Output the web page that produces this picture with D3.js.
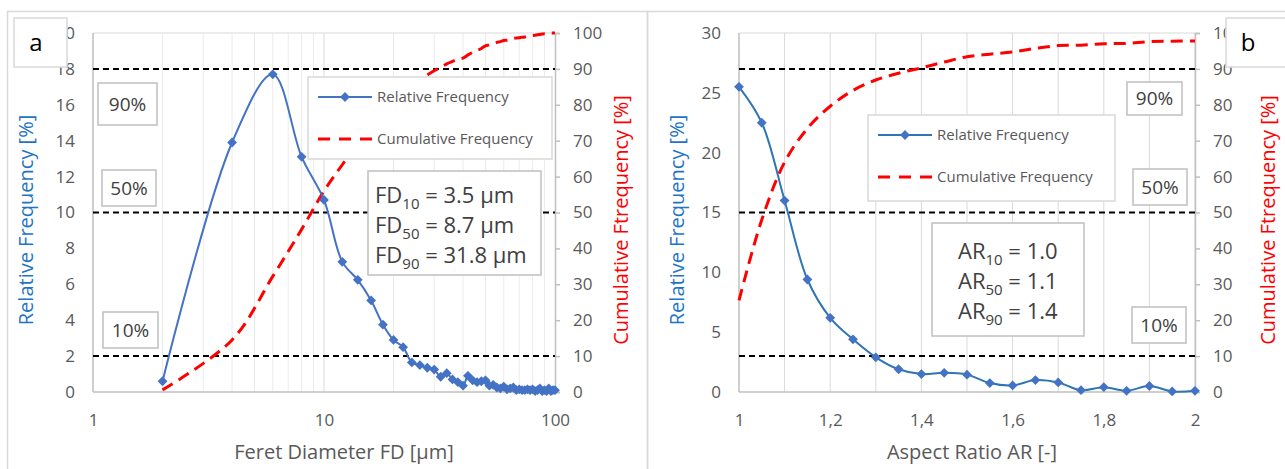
<!DOCTYPE html>
<html lang="en">
<head>
    <meta charset="UTF-8">
    <title>Feret diameter and aspect ratio distribution</title>
    <script src="https://cdn.jsdelivr.net/npm/d3@7"></script>
    <style>
        body { margin: 0; background: #fff; }
        text { font-family: "Open Sans", "Noto Sans", sans-serif; }
    </style>
</head>
<body>
    <div id="my_dataviz"></div>
    <script>
        // panel a: Feret diameter classes [µm] and frequencies [%]
        var fdSizes = [2, 4, 6, 8, 10, 12, 14, 16, 18, 20, 22, 24, 26, 28, 30, 32, 34, 36, 38, 40,
                       42, 44, 46, 48, 50, 52, 54, 56, 58, 60, 62, 64, 66, 68, 70, 72, 74, 76, 78, 80,
                       82, 84, 86, 88, 90, 92, 94, 96, 98, 100];
        var fdRelative = [0.6, 13.9, 17.7, 13.1, 10.7, 7.25, 6.25, 5.1, 3.75, 2.9, 2.5, 1.65, 1.5, 1.35, 1.25, 0.85, 1.05, 0.7, 0.55, 0.35,
                          0.9, 0.65, 0.55, 0.6, 0.65, 0.35, 0.4, 0.25, 0.2, 0.3, 0.15, 0.2, 0.25, 0.1, 0.15, 0.1, 0.1, 0.15, 0.1, 0.15,
                          0.05, 0.1, 0.2, 0.05, 0.1, 0.05, 0.2, 0.05, 0.1, 0.1];
        var fdCumulative = [0.6, 14.5, 32.2, 45.3, 56, 63.3, 69.5, 74.6, 78.4, 81.3, 83.8, 85.4, 86.9, 88.3, 89.5, 90.4, 91.4, 92.1, 92.7, 93.0,
                            93.9, 94.6, 95.1, 95.7, 96.4, 96.7, 97.1, 97.4, 97.6, 97.9, 98.0, 98.2, 98.5, 98.6, 98.7, 98.8, 98.9, 99.1, 99.2, 99.3,
                            99.4, 99.5, 99.6, 99.7, 99.8, 99.8, 99.9, 100, 100, 100];
        var fdTicks = [1, 10, 100];
        var fdGrid = [2, 3, 4, 5, 6, 7, 8, 9, 10, 20, 30, 40, 50, 60, 70, 80, 90];
        var fdStats = [["10", "3.5 µm"], ["50", "8.7 µm"], ["90", "31.8 µm"]];

        // panel b: aspect ratio classes [-] and frequencies [%]
        var arValues = [1, 1.05, 1.1, 1.15, 1.2, 1.25, 1.3, 1.35, 1.4, 1.45, 1.5, 1.55, 1.6, 1.65, 1.7, 1.75, 1.8, 1.85, 1.9, 1.95, 2];
        var arRelative = [25.5, 22.5, 16, 9.4, 6.2, 4.4, 2.9, 1.9, 1.5, 1.6, 1.45, 0.75, 0.55, 1.0, 0.8, 0.15, 0.4, 0.1, 0.5, 0.05, 0.1];
        var arCumulative = [25.5, 48, 64, 73.4, 79.6, 84, 86.9, 88.8, 90.3, 91.9, 93.4, 94.1, 94.7, 95.7, 96.5, 96.6, 97.0, 97.1, 97.6, 97.7, 97.8];
        var arTicks = [1, 1.2, 1.4, 1.6, 1.8, 2];
        var arGrid = [1.1, 1.2, 1.3, 1.4, 1.5, 1.6, 1.7, 1.8, 1.9, 2];
        var arStats = [["10", "1.0"], ["50", "1.1"], ["90", "1.4"]];

        var cumTicks = [0, 10, 20, 30, 40, 50, 60, 70, 80, 90, 100];
        var percentLevels = [90, 50, 10];

        var blue = "#4472C4", red = "#FF0000", gray = "#595959";

        var svg = d3.select("#my_dataviz")
          .append("svg")
            .attr("width", 1285)
            .attr("height", 469);

        // panel frames
        svg.append("rect").attr("x", 7.5).attr("y", 11.5).attr("width", 640).attr("height", 470)
            .attr("fill", "none").attr("stroke", "#d9d9d9").attr("stroke-width", 1.5);
        svg.append("rect").attr("x", 647.5).attr("y", 11.5).attr("width", 645).attr("height", 470)
            .attr("fill", "none").attr("stroke", "#d9d9d9").attr("stroke-width", 1.5);

        function drawPanel(p) {
            var g = svg.append("g");
            var x = p.x, y = p.y;
            var y2 = d3.scaleLinear().domain([0, 100]).range(y.range());
            var left = x.range()[0], right = x.range()[1];
            var top = y.range()[1], bottom = y.range()[0];

            // vertical gridlines
            g.append("g").selectAll("line")
                .data(p.grid)
                .enter()
                .append("line")
                  .attr("x1", function(d) { return x(d); })
                  .attr("x2", function(d) { return x(d); })
                  .attr("y1", top).attr("y2", bottom)
                  .attr("stroke", function(d) { return p.major(d) ? "#d9d9d9" : "#ebebeb"; })
                  .attr("stroke-width", 1);

            // plot area border
            g.append("line").attr("x1", left).attr("x2", right).attr("y1", top).attr("y2", top)
                .attr("stroke", "#d9d9d9");
            g.append("line").attr("x1", left).attr("x2", left).attr("y1", top).attr("y2", bottom)
                .attr("stroke", "#bfbfbf").attr("stroke-width", 1.5);
            g.append("line").attr("x1", left).attr("x2", right).attr("y1", bottom).attr("y2", bottom)
                .attr("stroke", "#bfbfbf").attr("stroke-width", 1.5);

            // Add X axis
            var xAxis = g.append("g")
                .attr("transform", "translate(0," + bottom + ")")
                .call(d3.axisBottom(x).tickValues(p.xTicks).tickFormat(p.xFormat).tickSize(0).tickPadding(22));
            xAxis.select(".domain").remove();

            // Add left Y axis
            var yAxis = g.append("g")
                .attr("transform", "translate(" + left + ",0)")
                .call(d3.axisLeft(y).tickValues(p.yTicks).tickSize(0).tickPadding(18));
            yAxis.select(".domain").remove();

            // Add right Y axis
            var yAxis2 = g.append("g")
                .attr("transform", "translate(" + right + ",0)")
                .call(d3.axisRight(y2).tickValues(cumTicks).tickSizeOuter(0).tickSize(5).tickPadding(13));
            yAxis2.select(".domain").attr("stroke", "#bfbfbf").attr("stroke-width", 1.5);
            yAxis2.selectAll(".tick line").attr("stroke", "#bfbfbf").attr("stroke-width", 1.5);

            g.selectAll(".tick text")
                .attr("fill", gray)
                .style("font-size", "17px")
                .style("font-family", "'Open Sans', sans-serif");

            // 10/50/90 % levels
            g.append("g").selectAll("line")
                .data(percentLevels)
                .enter()
                .append("line")
                  .attr("x1", left).attr("x2", right)
                  .attr("y1", function(d) { return y2(d); })
                  .attr("y2", function(d) { return y2(d); })
                  .attr("stroke", "#000")
                  .attr("stroke-width", 2)
                  .attr("stroke-dasharray", "6,4");

            // cumulative curve
            var cumLine = d3.line()
                .x(function(d, i) { return x(p.xs[i]); })
                .y(function(d) { return y2(d); })
                .curve(d3.curveCatmullRom.alpha(0.5));
            g.append("path")
                .datum(p.cumulative)
                .attr("d", cumLine)
                .attr("fill", "none")
                .attr("stroke", red)
                .attr("stroke-width", 3)
                .attr("stroke-dasharray", "12,7");

            // relative curve and markers
            var relLine = d3.line()
                .x(function(d, i) { return x(p.xs[i]); })
                .y(function(d) { return y(d); })
                .curve(d3.curveCatmullRom.alpha(0.5));
            g.append("path")
                .datum(p.relative)
                .attr("d", relLine)
                .attr("fill", "none")
                .attr("stroke", p.lineColor)
                .attr("stroke-width", 2);

            var diamond = d3.symbol().type(d3.symbolSquare).size(48);
            g.append("g").selectAll("path")
                .data(p.relative)
                .enter()
                .append("path")
                  .attr("d", diamond)
                  .attr("transform", function(d, i) { return "translate(" + x(p.xs[i]) + "," + y(d) + ") rotate(45)"; })
                  .attr("fill", blue);

            // axis titles
            g.append("text")
                .attr("transform", "translate(" + p.xTitlePos[0] + "," + p.xTitlePos[1] + ")")
                .style("text-anchor", "middle")
                .style("font-size", "20px")
                .attr("fill", gray)
                .text(p.xTitle);
            g.append("text")
                .attr("transform", "translate(" + p.yTitleX + "," + 220 + ") rotate(-90)")
                .attr("dy", "0.35em")
                .style("text-anchor", "middle")
                .style("font-size", "20px")
                .attr("fill", "#1F74C6")
                .text("Relative Frequency [%]");
            g.append("text")
                .attr("transform", "translate(" + p.y2TitleX + "," + 220 + ") rotate(-90)")
                .attr("dy", "0.35em")
                .style("text-anchor", "middle")
                .style("font-size", "20px")
                .attr("fill", red)
                .text("Cumulative Ftrequency [%]");

            // legend
            var lg = g.append("g").attr("transform", "translate(" + p.legend[0] + "," + p.legend[1] + ")");
            lg.append("rect").attr("width", p.legend[2]).attr("height", p.legend[3])
                .attr("fill", "#fff").attr("stroke", "#d9d9d9").attr("stroke-width", 1.5);
            lg.append("line").attr("x1", 10).attr("x2", 64).attr("y1", 20).attr("y2", 20)
                .attr("stroke", p.lineColor).attr("stroke-width", 2);
            lg.append("path").attr("d", diamond).attr("transform", "translate(37,20) rotate(45)").attr("fill", blue);
            lg.append("line").attr("x1", 10).attr("x2", 64).attr("y1", 62).attr("y2", 62)
                .attr("stroke", red).attr("stroke-width", 3).attr("stroke-dasharray", "12,9");
            lg.append("text").attr("x", 69).attr("y", 20).attr("dy", "0.35em")
                .style("font-size", "15px").attr("fill", gray).text("Relative Frequency");
            lg.append("text").attr("x", 69).attr("y", 62).attr("dy", "0.35em")
                .style("font-size", "15px").attr("fill", gray).text("Cumulative Frequency");

            // characteristic values box
            var sb = g.append("g").attr("transform", "translate(" + p.stats[0] + "," + p.stats[1] + ")");
            sb.append("rect").attr("width", p.stats[2]).attr("height", p.stats[3])
                .attr("fill", "#fff").attr("stroke", "#bfbfbf").attr("stroke-width", 1.5);
            p.statValues.forEach(function(s, i) {
                var t = sb.append("text")
                    .attr("x", p.stats[4])
                    .attr("y", p.stats[5] + i * 30)
                    .attr("dy", "0.35em")
                    .style("font-size", "22px")
                    .attr("fill", "#404040");
                t.append("tspan").text(p.statName);
                t.append("tspan").attr("dy", 6).style("font-size", "15px").text(s[0]);
                t.append("tspan").attr("dy", -6).text(" = " + s[1]);
            });

            // 90 % / 50 % / 10 % labels
            p.percentBoxes.forEach(function(b, i) {
                g.append("rect").attr("x", b[0]).attr("y", b[1]).attr("width", b[2]).attr("height", b[3])
                    .attr("fill", "#fff").attr("stroke", "#bfbfbf").attr("stroke-width", 1.5);
                g.append("text").attr("x", b[0] + b[2] / 2).attr("y", b[1] + b[3] / 2).attr("dy", "0.35em")
                    .style("text-anchor", "middle").style("font-size", "19px").attr("fill", "#404040")
                    .text(percentLevels[i] + "%");
            });

            // panel letter
            g.append("rect").attr("x", p.letterBox[0]).attr("y", p.letterBox[1]).attr("width", p.letterBox[2]).attr("height", p.letterBox[3])
                .attr("fill", "#fff").attr("stroke", "#d9d9d9").attr("stroke-width", 1.5);
            g.append("text").attr("x", p.letterBox[0] + 22).attr("y", p.letterBox[1] + 25).attr("dy", "0.35em")
                .style("text-anchor", "middle").style("font-size", "24px").attr("fill", "#000")
                .text(p.letter);
        }

        drawPanel({
            x: d3.scaleLog().domain([1, 100]).range([93, 555]),
            y: d3.scaleLinear().domain([0, 20]).range([392, 33]),
            xs: fdSizes, relative: fdRelative, cumulative: fdCumulative,
            grid: fdGrid, major: function(d) { return d === 10; },
            xTicks: fdTicks, xFormat: d3.format("d"),
            yTicks: [0, 2, 4, 6, 8, 10, 12, 14, 16, 18, 20],
            lineColor: blue,
            xTitle: "Feret Diameter FD [µm]", xTitlePos: [344, 459],
            yTitleX: 26, y2TitleX: 621,
            legend: [308, 77, 244, 82],
            stats: [368, 171, 173, 104, 7, 24],
            statName: "FD", statValues: fdStats,
            percentBoxes: [[98, 83, 59, 42], [102, 170, 54, 36], [103, 312, 55, 36]],
            letterBox: [14, 18, 53, 49], letter: "a"
        });

        drawPanel({
            x: d3.scaleLinear().domain([1, 2]).range([739, 1195]),
            y: d3.scaleLinear().domain([0, 30]).range([392, 33]),
            xs: arValues, relative: arRelative, cumulative: arCumulative,
            grid: arGrid, major: function() { return true; },
            xTicks: arTicks, xFormat: function(d) { return String(d).replace(".", ","); },
            yTicks: [0, 5, 10, 15, 20, 25, 30],
            lineColor: "#2E75B6",
            xTitle: "Aspect Ratio AR [-]", xTitlePos: [972, 459],
            yTitleX: 677, y2TitleX: 1268,
            legend: [868, 115, 247, 86],
            stats: [932, 223, 152, 113, 26, 28],
            statName: "AR", statValues: arStats,
            percentBoxes: [[1127, 82, 55, 33], [1133, 169, 54, 36], [1132, 307, 54, 36]],
            letterBox: [1226, 18, 62, 49], letter: "b"
        });
    </script>
</body>
</html>
